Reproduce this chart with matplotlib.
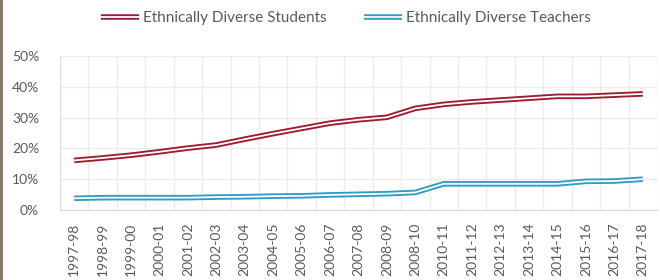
import matplotlib
matplotlib.use("Agg")
import matplotlib.pyplot as plt
import matplotlib.patheffects as pe
import numpy as np

years = ["1997-98", "1998-99", "1999-00", "2000-01", "2001-02", "2002-03",
         "2003-04", "2004-05", "2005-06", "2006-07", "2007-08", "2008-09",
         "2008-10", "2010-11", "2011-12", "2012-13", "2013-14", "2014-15",
         "2015-16", "2016-17", "2017-18"]
students = [16.1, 16.9, 17.8, 18.9, 20.1, 21.1, 23.0, 24.8, 26.5, 28.2, 29.3,
            30.1, 33.0, 34.3, 35.1, 35.7, 36.3, 36.9, 36.9, 37.3, 37.7]
teachers = [3.8, 4.0, 4.0, 4.0, 4.0, 4.2, 4.3, 4.5, 4.6, 4.9, 5.1,
            5.3, 5.7, 8.5, 8.5, 8.5, 8.5, 8.5, 9.3, 9.4, 10.0]
yticks = [0, 10, 20, 30, 40, 50]

plt.rcParams['font.family'] = ['Lato', 'DejaVu Sans']

red = '#9E1B32'
blue = '#2E9CC3'
gray_txt = '#595959'

fig = plt.figure(figsize=(6.6, 2.8), dpi=100)
ax = fig.add_axes([60/660, 1-210/280, 597/660, 154/280])

x = np.arange(len(years))
for vals, col, lab in [(students, red, 'Ethnically Diverse Students'),
                       (teachers, blue, 'Ethnically Diverse Teachers')]:
    ax.plot(x, vals, color='white', lw=1.3, label=lab, solid_capstyle='butt',
            path_effects=[pe.Stroke(linewidth=4.0, foreground=col, capstyle='butt'), pe.Normal()],
            zorder=3)

ax.set_xlim(-0.5, len(years) - 0.5)
ax.set_ylim(0, 50)
ax.set_yticks(yticks)
ax.set_yticklabels([f"{v}%" for v in yticks])
ax.set_xticks(x)
ax.set_xticklabels(years, rotation=90)
ax.set_xticks(np.arange(-0.5, len(years), 1.0), minor=True)

ax.grid(axis='y', which='major', color='#EBEBEB', lw=1.0, zorder=0)
ax.grid(axis='x', which='minor', color='#EBEBEB', lw=1.0, zorder=0)
ax.grid(axis='x', which='major', visible=False)

for s in ['top', 'right']:
    ax.spines[s].set_visible(False)
ax.spines['left'].set_color('#E0E0E0')
ax.spines['bottom'].set_color('#D9D9D9')

ax.tick_params(axis='both', which='both', length=0, colors=gray_txt, labelsize=10)
ax.tick_params(axis='y', pad=15)
ax.tick_params(axis='x', pad=9)

fig.legend(loc='center', bbox_to_anchor=(346/660, 1-18/280), ncol=2, frameon=False,
           fontsize=11, labelcolor=gray_txt, handlelength=2.5, handletextpad=0.3,
           columnspacing=2.4)

# left border strip
fig.add_artist(plt.Rectangle((0, 0), 3/660, 1, transform=fig.transFigure,
                             color='#857A68', lw=0))

fig.savefig('out.png', dpi=100)
